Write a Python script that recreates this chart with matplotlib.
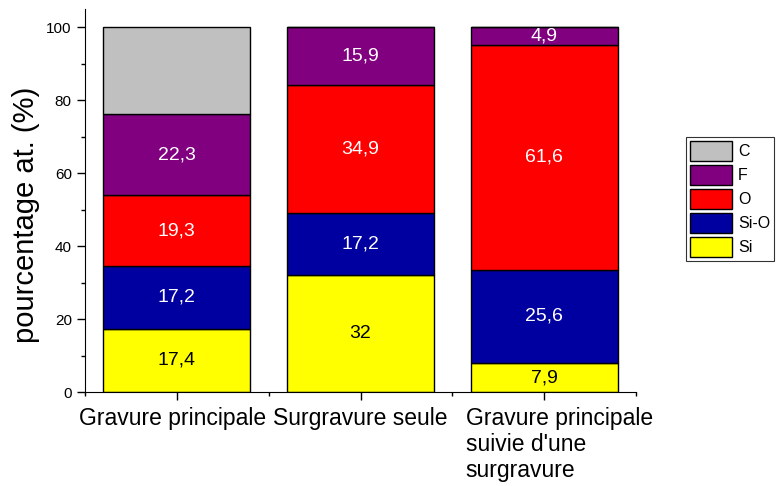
import matplotlib
matplotlib.use("Agg")
import matplotlib.pyplot as plt
import matplotlib.transforms as mtransforms
import numpy as np
from matplotlib.ticker import FixedLocator

plt.rcParams['font.family'] = ['Liberation Sans', 'DejaVu Sans']

categories = ["Gravure principale", "Surgravure seule", "Gravure principale\nsuivie d'une\nsurgravure"]
si = [17.4, 32.0, 7.9]
si_o = [17.2, 17.2, 25.6]
o = [19.3, 34.9, 61.6]
f = [22.3, 15.9, 4.9]
c = [23.8, 0.0, 0.0]

series = [("Si", si, "#FFFF00", "black", True),
          ("Si-O", si_o, "#0000A0", "white", True),
          ("O", o, "#FF0000", "white", True),
          ("F", f, "#800080", "white", True),
          ("C", c, "#C0C0C0", "white", False)]

fig = plt.figure(figsize=(7.78, 4.86), dpi=100)
ax = fig.add_axes([85/778, 1-392/486, (636-85)/778, (392-9)/486])

x = np.arange(len(categories))
bottom = np.zeros(len(categories))
handles = []
for name, vals, col, tcol, lab in series:
    vals = np.array(vals)
    b = ax.bar(x, vals, 0.8, bottom=bottom, color=col, edgecolor='black', linewidth=1, label=name)
    handles.append(b)
    if lab:
        for xi, v, bt in zip(x, vals, bottom):
            if v > 0:
                s = f"{v:g}".replace('.', ',')
                ax.text(xi, bt + v/2, s, ha='center', va='center', color=tcol, fontsize=14)
    bottom += vals

ax.set_xlim(-0.5, 2.5)
ax.set_ylim(0, 105)
ax.spines['top'].set_visible(False)
ax.spines['right'].set_visible(False)
ax.yaxis.set_major_locator(FixedLocator([0, 20, 40, 60, 80, 100]))
ax.yaxis.set_minor_locator(FixedLocator([10, 30, 50, 70, 90]))
ax.xaxis.set_minor_locator(FixedLocator([-0.5, 0.5, 1.5, 2.5]))
ax.set_xticks(x)
ax.set_xticklabels(categories, fontsize=16.5, multialignment='left', linespacing=1.17)
ax.tick_params(axis='y', which='major', length=6, width=1, labelsize=11)
ax.tick_params(axis='y', which='minor', length=3, width=1)
ax.tick_params(axis='x', which='major', length=6, width=1, pad=5)
ax.tick_params(axis='x', which='minor', length=3, width=1)
ax.set_ylabel("pourcentage at. (%)", fontsize=21)
ax.yaxis.set_label_coords(-0.081, 0.462)

# shift labels slightly like the reference
offsets = [-4, 0, 15]
for lbl, dx in zip(ax.get_xticklabels(), offsets):
    lbl.set_transform(lbl.get_transform() + mtransforms.ScaledTranslation(dx/100, 0, fig.dpi_scale_trans))

leg = fig.legend(handles[::-1], [s[0] for s in series][::-1], loc='upper left',
                 bbox_to_anchor=(686/778, 1-137/486), fontsize=11.5, frameon=True,
                 fancybox=False, edgecolor='black', handlelength=2.6, handleheight=1.55,
                 labelspacing=0.25, handletextpad=0.4, borderpad=0.25, borderaxespad=0)
leg.get_frame().set_linewidth(0.8)

fig.savefig("out.png", dpi=100)
